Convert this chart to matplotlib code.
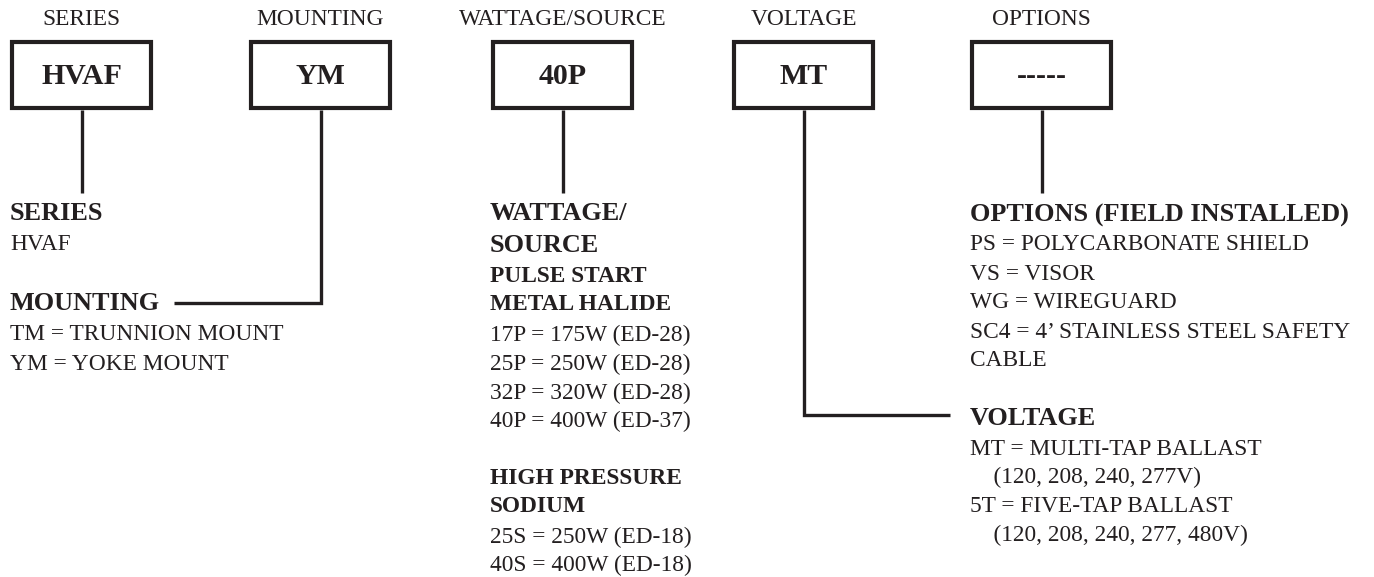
"""Ordering-code diagram for the HVAF fixture"""
import matplotlib.pyplot as plt
import matplotlib.patches as patches

# ============================================================================
# CONTENT
# ============================================================================
headers = ['SERIES', 'MOUNTING', 'WATTAGE/SOURCE', 'VOLTAGE', 'OPTIONS']
codes = ['HVAF', 'YM', '40P', 'MT', '-----']

# description blocks: (text, style) with style h=heading, s=subheading, b=body
series_lines = [('SERIES', 'h'), ('HVAF', 'b')]
mounting_lines = [('MOUNTING', 'h'),
                  ('TM = TRUNNION MOUNT', 'b'),
                  ('YM = YOKE MOUNT', 'b')]
wattage_lines = [('WATTAGE/', 'h'), ('SOURCE', 'h'),
                 ('PULSE START', 's'), ('METAL HALIDE', 's'),
                 ('17P = 175W (ED-28)', 'b'),
                 ('25P = 250W (ED-28)', 'b'),
                 ('32P = 320W (ED-28)', 'b'),
                 ('40P = 400W (ED-37)', 'b'),
                 ('HIGH PRESSURE', 's'), ('SODIUM', 's'),
                 ('25S = 250W (ED-18)', 'b'),
                 ('40S = 400W (ED-18)', 'b')]
options_lines = [('OPTIONS (FIELD INSTALLED)', 'h'),
                 ('PS = POLYCARBONATE SHIELD', 'b'),
                 ('VS = VISOR', 'b'),
                 ('WG = WIREGUARD', 'b'),
                 ('SC4 = 4\u2019 STAINLESS STEEL SAFETY', 'b'),
                 ('CABLE', 'b')]
voltage_lines = [('VOLTAGE', 'h'),
                 ('MT = MULTI-TAP BALLAST', 'b'),
                 ('    (120, 208, 240, 277V)', 'b'),
                 ('5T = FIVE-TAP BALLAST', 'b'),
                 ('    (120, 208, 240, 277, 480V)', 'b')]

# ============================================================================
# LAYOUT (pixel coordinates, y downwards)
# ============================================================================
W, H = 1374, 577
box_left = [12, 251, 493, 734, 972]
box_w, box_top, box_h = 139, 42, 66
INK = '#231f20'
FONT = 'Liberation Serif'
styles = {'h': dict(fontsize=18.9, fontweight='bold'),
          's': dict(fontsize=16.8, fontweight='bold'),
          'b': dict(fontsize=16.8)}

fig = plt.figure(figsize=(W / 100, H / 100), dpi=100)
ax = fig.add_axes([0, 0, 1, 1])
ax.set_xlim(0, W)
ax.set_ylim(H, 0)
ax.axis('off')

centers = []
for left, head, code in zip(box_left, headers, codes):
    cx = left + box_w / 2
    centers.append(cx)
    ax.add_patch(patches.Rectangle((left, box_top), box_w, box_h, fill=False,
                                   edgecolor=INK, linewidth=3.0))
    ax.text(cx, 25, head, ha='center', va='baseline', fontsize=16.8,
            family=FONT, color=INK)
    ax.text(cx, 83.5, code, ha='center', va='baseline', fontsize=21.5,
            fontweight='bold', family=FONT, color=INK)

lw = 2.4
box_bottom = box_top + box_h + 2
# straight drops
for i in (0, 2, 4):
    ax.plot([centers[i], centers[i]], [box_bottom, 193],
            color=INK, lw=lw, solid_capstyle='butt')
# mounting elbow
ax.plot([centers[1], centers[1], 174], [box_bottom, 303, 303], color=INK, lw=lw,
        solid_joinstyle='miter', solid_capstyle='butt')
# voltage elbow
ax.plot([centers[3], centers[3], 950], [box_bottom, 415, 415], color=INK, lw=lw,
        solid_joinstyle='miter', solid_capstyle='butt')


def block(x, baselines, lines):
    for y, (txt, st) in zip(baselines, lines):
        ax.text(x, y, txt, ha='left', va='baseline', family=FONT, color=INK,
                **styles[st])


block(10, [220, 250], series_lines)
block(10, [310, 340, 370], mounting_lines)
block(490, [220, 251.5, 281.5, 310.5, 341.5, 370, 399, 427.5,
            484, 512.5, 543, 571], wattage_lines)
block(970, [221.5, 250, 280, 308.5, 337.5, 366], options_lines)
block(970, [425, 455, 483.5, 512.5, 541.5], voltage_lines)

plt.savefig('out.png', dpi=100)
